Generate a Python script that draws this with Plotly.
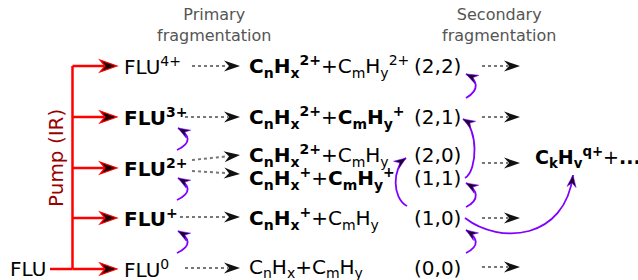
import math
import plotly.graph_objects as go

W, H = 638, 280
FONT = "DejaVu Sans"

# ---- diagram content ----
flu_labels = ["FLU<sup>4+</sup>", "<b>FLU<sup>3+</sup></b>", "<b>FLU<sup>2+</sup></b>",
              "<b>FLU<sup>+</sup></b>", "FLU<sup>0</sup>"]
flu_rows = [66, 117, 168, 218, 269]

prim_labels = [
    "<b>C<sub>n</sub>H<sub>x</sub><sup>2+</sup></b>+C<sub>m</sub>H<sub>y</sub><sup>2+</sup>",
    "<b>C<sub>n</sub>H<sub>x</sub><sup>2+</sup></b>+<b>C<sub>m</sub>H<sub>y</sub><sup>+</sup></b>",
    "<b>C<sub>n</sub>H<sub>x</sub><sup>2+</sup></b>+C<sub>m</sub>H<sub>y</sub>",
    "<b>C<sub>n</sub>H<sub>x</sub><sup>+</sup></b>+<b>C<sub>m</sub>H<sub>y</sub><sup>+</sup></b>",
    "<b>C<sub>n</sub>H<sub>x</sub><sup>+</sup></b>+C<sub>m</sub>H<sub>y</sub>",
    "C<sub>n</sub>H<sub>x</sub>+C<sub>m</sub>H<sub>y</sub>",
]
prim_rows = [66, 117, 155, 178, 218, 268]
sec_labels = ["(2,2)", "(2,1)", "(2,0)", "(1,1)", "(1,0)", "(0,0)"]
final_label = "<b>C<sub>k</sub>H<sub>v</sub><sup>q+</sup></b>+<b>...</b>"

# dotted arrows (from, to)
prim_arrows = [((192, 66), (240, 66)), ((185, 117), (240, 117)), ((192, 160), (240, 155)),
               ((192, 171), (240, 174)), ((180, 217), (240, 217)), ((185, 268), (240, 268))]
sec_arrow_rows = [66, 117, 163, 218, 267]

# purple curved arrows: start, ctrl1, ctrl2, end
curves = [
    ((177, 253), (192, 246), (190, 238), (178, 231)),
    ((177, 200), (192, 193), (190, 185), (178, 178)),
    ((177, 150), (192, 143), (190, 135), (178, 128)),
    ((466, 98), (480, 90), (478, 80), (466, 74)),
    ((465, 178), (478, 170), (478, 128), (463, 119)),
    ((466, 207), (480, 200), (478, 190), (466, 183)),
    ((407, 206), (392, 198), (392, 168), (406, 158)),
    ((466, 253), (480, 246), (478, 238), (466, 230)),
    ((465, 218), (500, 245), (565, 240), (573, 175)),
]

shapes = []
ann = []


def head(tip, frm, L, hw, notch, fill, line_color=None, lw=0):
    dx, dy = tip[0] - frm[0], tip[1] - frm[1]
    n = math.hypot(dx, dy)
    dx, dy = dx / n, dy / n
    px, py = -dy, dx
    bx, by = tip[0] - L * dx, tip[1] - L * dy
    p1 = (bx + hw * px, by + hw * py)
    p2 = (tip[0] - (L - notch) * dx, tip[1] - (L - notch) * dy)
    p3 = (bx - hw * px, by - hw * py)
    path = "M{},{} L{},{} L{},{} L{},{} Z".format(tip[0], tip[1], p1[0], p1[1], p2[0], p2[1], p3[0], p3[1])
    shapes.append(dict(type="path", path=path, xref="x", yref="y", fillcolor=fill,
                       line=dict(color=line_color or fill, width=lw)))


def dotted(a, b):
    dx, dy = b[0] - a[0], b[1] - a[1]
    n = math.hypot(dx, dy)
    e = (b[0] - 12 * dx / n, b[1] - 12 * dy / n)
    shapes.append(dict(type="line", x0=a[0], y0=a[1], x1=e[0], y1=e[1], xref="x", yref="y",
                       line=dict(color="#777777", width=2, dash="dot")))
    head(b, a, 16, 5.5, 5, "#111111")


# red pump structure
RED = "#ff0000"
vx = 72.5
shapes.append(dict(type="line", x0=vx, y0=flu_rows[0], x1=vx, y1=flu_rows[-1], xref="x", yref="y",
                   line=dict(color=RED, width=2.5)))
shapes.append(dict(type="line", x0=50, y0=flu_rows[-1], x1=vx, y1=flu_rows[-1], xref="x", yref="y",
                   line=dict(color=RED, width=2.5)))
for y in flu_rows:
    shapes.append(dict(type="line", x0=vx, y0=y, x1=106, y1=y, xref="x", yref="y",
                       line=dict(color=RED, width=2.5)))
    head((117, y), (vx, y), 17, 6, 5, "#220000", RED, 1.2)

for a, b in prim_arrows:
    dotted(a, b)
for y in sec_arrow_rows:
    dotted((482, y), (520, y))

PURPLE = "#8000ff"
for s, c1, c2, e in curves:
    path = "M{},{} C{},{} {},{} {},{}".format(*s, *c1, *c2, *e)
    shapes.append(dict(type="path", path=path, xref="x", yref="y",
                       line=dict(color=PURPLE, width=1.8)))
    head(e, c2, 12, 4.5, 4, "#1a0033", PURPLE, 0.6)

# text
ann.append(dict(x=8, y=flu_rows[-1], text="FLU", xanchor="left", yanchor="middle"))
for t, y in zip(flu_labels, flu_rows):
    ann.append(dict(x=122, y=y, text=t, xanchor="left", yanchor="middle"))
for t, y in zip(prim_labels, prim_rows):
    ann.append(dict(x=247, y=y, text=t, xanchor="left", yanchor="middle"))
for t, y in zip(sec_labels, prim_rows):
    ann.append(dict(x=412, y=y, text=t, xanchor="left", yanchor="middle"))

for a in ann:
    a.update(showarrow=False, xref="x", yref="y", font=dict(family=FONT, size=20, color="black"))

ann.append(dict(x=533, y=157, text=final_label, xanchor="left", yanchor="middle", showarrow=False,
                xref="x", yref="y", font=dict(family=FONT, size=19, color="black")))
ann.append(dict(x=214, y=25, text="Primary<br>fragmentation", showarrow=False, xref="x", yref="y",
                xanchor="center", yanchor="middle", font=dict(family=FONT, size=16, color="#555555")))
ann.append(dict(x=499, y=25, text="Secondary<br>fragmentation", showarrow=False, xref="x", yref="y",
                xanchor="center", yanchor="middle", font=dict(family=FONT, size=16, color="#555555")))
ann.append(dict(x=56, y=158, text="Pump (IR)", textangle=-90, showarrow=False, xref="x", yref="y",
                xanchor="center", yanchor="middle", font=dict(family=FONT, size=20, color="#990000")))

fig = go.Figure()
fig.update_layout(width=W, height=H, margin=dict(l=0, r=0, t=0, b=0),
                  paper_bgcolor="white", plot_bgcolor="white",
                  xaxis=dict(range=[0, W], visible=False, fixedrange=True),
                  yaxis=dict(range=[H, 0], visible=False, fixedrange=True),
                  shapes=shapes, annotations=ann, showlegend=False)
fig.write_html("out.html", config={"displayModeBar": False},
               post_script="document.body.style.margin='0';document.body.style.overflow='hidden';")
